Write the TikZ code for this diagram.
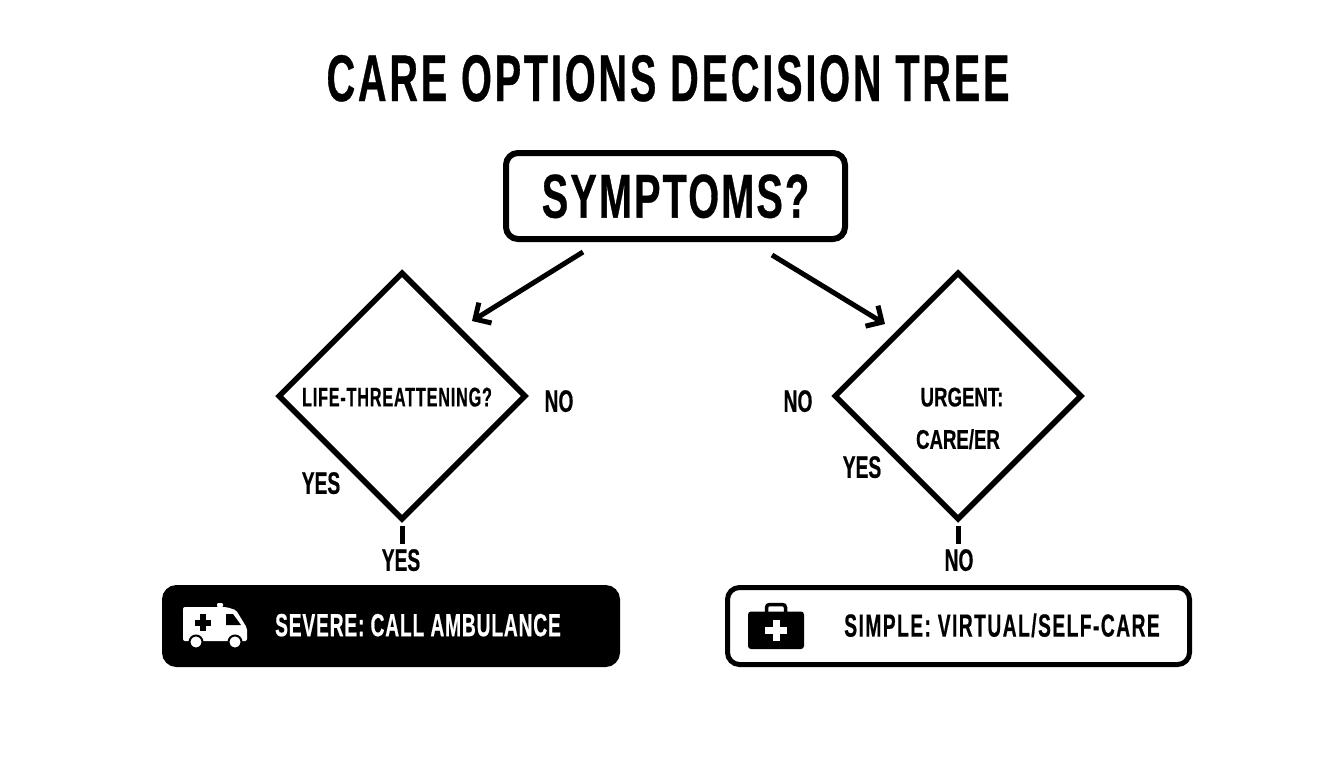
\documentclass[tikz,border=0pt]{standalone}
\usepackage{fontspec}
\setmainfont{Liberation Sans}[BoldFont=* Bold]
\usetikzlibrary{arrows.meta,shapes.geometric}

\newcommand{\condfont}[3]{\bfseries\fontsize{#1}{#1}\selectfont\addfontfeature{FakeStretch=#2,LetterSpace=#3,FakeBold=0.5}}

\begin{document}
\begin{tikzpicture}[x=1pt,y=-1pt,>={Straight Barb[length=12pt,width=24pt]}]
  \tikzstyle{decision}=[draw,shape=diamond,aspect=1,line width=5.5pt,inner sep=0pt,minimum width=248pt,minimum height=248pt]
  \tikzstyle{outcome}=[draw,rounded corners=12pt,line width=5pt,minimum width=462pt,minimum height=77pt]
  \tikzstyle{answer}=[inner sep=0pt,text depth=0pt,font=\condfont{31}{0.62}{0}]
  \tikzstyle{question}=[inner sep=0pt,text depth=0pt,font=\condfont{27}{0.69}{0}]
  \tikzstyle{link}=[line width=5pt]

  \useasboundingbox (0,0) rectangle (1344,768);

  \node[inner sep=0pt,text depth=0pt,font=\condfont{66}{0.6}{4.3}] (title) at (668,78) {CARE OPTIONS DECISION TREE};

  \node[draw,rounded corners=12pt,line width=6pt,minimum width=339pt,minimum height=86pt,text depth=0pt,font=\condfont{62}{0.64}{3.4}] (symptoms) at (675.5,196) {SYMPTOMS?};

  \node[decision] (life)   at (402,396) {};
  \node[decision] (urgent) at (958,396) {};

  \node[question,font=\condfont{27}{0.6}{3}] (lifetext) at (397,397) {LIFE-THREATTENING?};
  \node[question] (urgenttext)  at (962,397) {URGENT:};
  \node[question] (careertext)  at (958,439) {CARE/ER};

  \node[answer] (noleft)   at (559,401) {NO};
  \node[answer] (noright)  at (798,401) {NO};
  \node[answer] (yesleft)  at (321,483) {YES};
  \node[answer] (yesright) at (862,467) {YES};
  \node[answer] (yeslow)   at (401,560) {YES};
  \node[answer] (nolow)    at (959,560) {NO};

  \node[outcome,fill=black,draw=black,minimum width=453pt] (severe) at (391,626) {};
  \node[outcome] (simple) at (958.5,626) {};

  \node[inner sep=0pt,text depth=0pt,text=white,font=\condfont{32}{0.6}{2.6}] (severetext) at (418,625) {SEVERE: CALL AMBULANCE};
  \node[inner sep=0pt,text depth=0pt,font=\condfont{32}{0.6}{4.6}] (simpletext) at (1002,625) {SIMPLE: VIRTUAL/SELF-CARE};

  \coordinate (leftfrom)  at (583,252);
  \coordinate (leftto)    at (472,321);
  \coordinate (rightfrom) at (772,255);
  \coordinate (rightto)   at (885,324);

  \path[->,link] (leftfrom) edge (leftto)
        (rightfrom) edge (rightto);
  \path[link] (life.south) edge[shorten <=3pt] ([yshift=5pt]life.south |- yeslow.north)
        (urgent.south) edge[shorten <=3pt] ([yshift=5pt]urgent.south |- nolow.north);

  % ambulance
  \fill[white,rounded corners=2pt] (183,607) -- (226,607) -- (236,610) -- (247,628) -- (247,641) -- (183,641) -- cycle;
  \fill[white,rounded corners=1pt] (217,603) rectangle (223,607);
  \fill[black] (226,614) -- (233,614) -- (241,625) -- (226,625) -- cycle;
  \fill[black] (200,614) rectangle (206,631);
  \fill[black] (195,619.5) rectangle (211,625.5);
  \filldraw[fill=white,draw=black,line width=2pt] (196,642) circle (6.5);
  \filldraw[fill=white,draw=black,line width=2pt] (235,642) circle (6.5);

  % medical case
  \draw[black,line width=3.5pt,rounded corners=3pt] (766.5,613) -- (766.5,604.5) -- (785.5,604.5) -- (785.5,613);
  \fill[black,rounded corners=3pt] (748,611.5) rectangle (804,649);
  \fill[white] (772.5,620) rectangle (779.5,641);
  \fill[white] (765,627) rectangle (787,634);
\end{tikzpicture}
\end{document}
